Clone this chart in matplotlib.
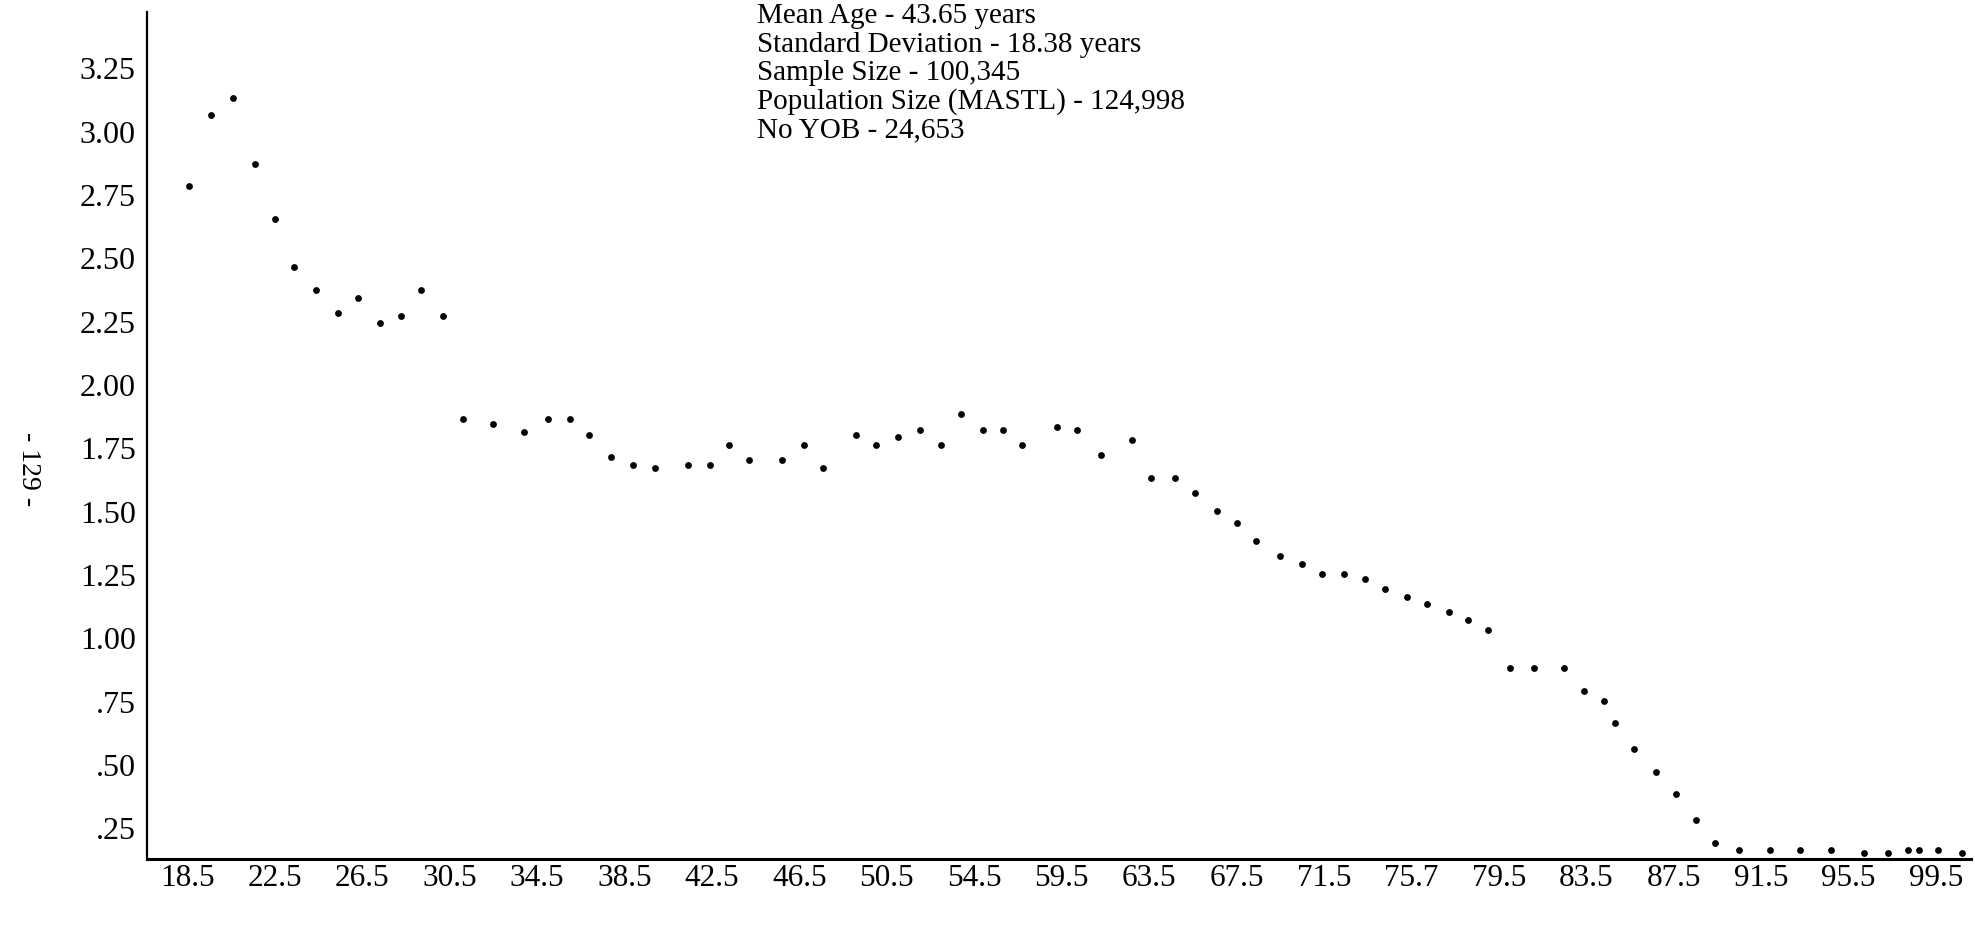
import numpy as np
import matplotlib
matplotlib.use("Agg")
from matplotlib import pyplot as plt

# position of each dot along the age axis (read against the x labels) and its value
ages = [18.6, 19.6, 20.6, 21.6, 22.5, 23.4, 24.4, 25.4, 26.3, 27.3,
        28.3, 29.2, 30.2, 31.1, 32.5, 33.9, 35.0, 36.0, 36.9, 37.9,
        38.9, 39.9, 41.4, 42.4, 43.3, 44.2, 45.7, 46.7, 47.6, 49.1,
        50.0, 51.0, 52.0, 53.0, 53.9, 54.9, 55.8, 56.7, 58.3, 59.2,
        60.3, 61.7, 62.6, 63.7, 64.6, 65.6, 66.5, 67.4, 68.5, 69.5,
        70.4, 71.4, 72.4, 73.3, 74.3, 75.2, 76.2, 77.1, 78.0, 79.0,
        80.1, 81.5, 82.4, 83.3, 83.8, 84.7, 85.7, 86.6, 87.5, 88.4,
        89.5, 90.9, 92.3, 93.7, 95.2, 96.3, 97.2, 97.7, 98.6, 99.7]
values = [2.78, 3.06, 3.13, 2.87, 2.65, 2.46, 2.37, 2.28, 2.34, 2.24,
          2.27, 2.37, 2.27, 1.86, 1.84, 1.81, 1.86, 1.86, 1.80, 1.71,
          1.68, 1.67, 1.68, 1.68, 1.76, 1.70, 1.70, 1.76, 1.67, 1.80,
          1.76, 1.79, 1.82, 1.76, 1.88, 1.82, 1.82, 1.76, 1.83, 1.82,
          1.72, 1.78, 1.63, 1.63, 1.57, 1.50, 1.45, 1.38, 1.32, 1.29,
          1.25, 1.25, 1.23, 1.19, 1.16, 1.13, 1.10, 1.07, 1.03, 0.88,
          0.88, 0.88, 0.79, 0.75, 0.66, 0.56, 0.47, 0.38, 0.28, 0.19,
          0.16, 0.16, 0.16, 0.16, 0.15, 0.15, 0.16, 0.16, 0.16, 0.15]

x_labels = ["18.5", "22.5", "26.5", "30.5", "34.5", "38.5", "42.5",
            "46.5", "50.5", "54.5", "59.5", "63.5", "67.5", "71.5",
            "75.7", "79.5", "83.5", "87.5", "91.5", "95.5", "99.5"]
y_ticks = [3.25, 3.00, 2.75, 2.50, 2.25, 2.00, 1.75, 1.50, 1.25,
           1.00, 0.75, 0.50, 0.25]
y_labels = ["3.25", "3.00", "2.75", "2.50", "2.25", "2.00", "1.75",
            "1.50", "1.25", "1.00", ".75", ".50", ".25"]

stats_lines = ["Mean Age - 43.65 years",
               "Standard Deviation - 18.38 years",
               "Sample Size - 100,345",
               "Population Size (MASTL) - 124,998",
               "No YOB - 24,653"]
page_no = "- 129 -"

serif = ["Liberation Serif", "DejaVu Serif"]
W, H = 1975, 929

fig = plt.figure(figsize=(W / 100, H / 100), dpi=100)
ax = fig.add_axes([147 / W, 1 - 860 / H, (1971 - 147) / W, (860 - 13) / H])

ax.scatter(ages, values, s=24, color="black", linewidths=0, clip_on=False, zorder=3)

ax.set_xlim(16.66, 100.1)
ax.set_ylim(0.125, 3.468)

x_pos = 18.5 + 4 * np.arange(len(x_labels))
ax.set_xticks(x_pos)
ax.set_xticklabels(x_labels, family=serif, fontsize=22.5)
ax.set_yticks(y_ticks)
ax.set_yticklabels(y_labels, family=serif, fontsize=23)
ax.tick_params(axis="x", length=0, pad=3)
ax.tick_params(axis="y", length=0, pad=8)

for side in ["top", "right"]:
    ax.spines[side].set_visible(False)
ax.spines["left"].set_linewidth(1.6)
ax.spines["bottom"].set_linewidth(2.2)

for i, line in enumerate(stats_lines):
    fig.text(757 / W, 1 - (23 + 28.5 * i) / H, line, va="baseline",
             family=serif, fontsize=21)

fig.text(28 / W, 1 - 469 / H, page_no, rotation=-90, ha="center", va="center",
         family=serif, fontsize=20)

fig.savefig("out.png", dpi=100)
